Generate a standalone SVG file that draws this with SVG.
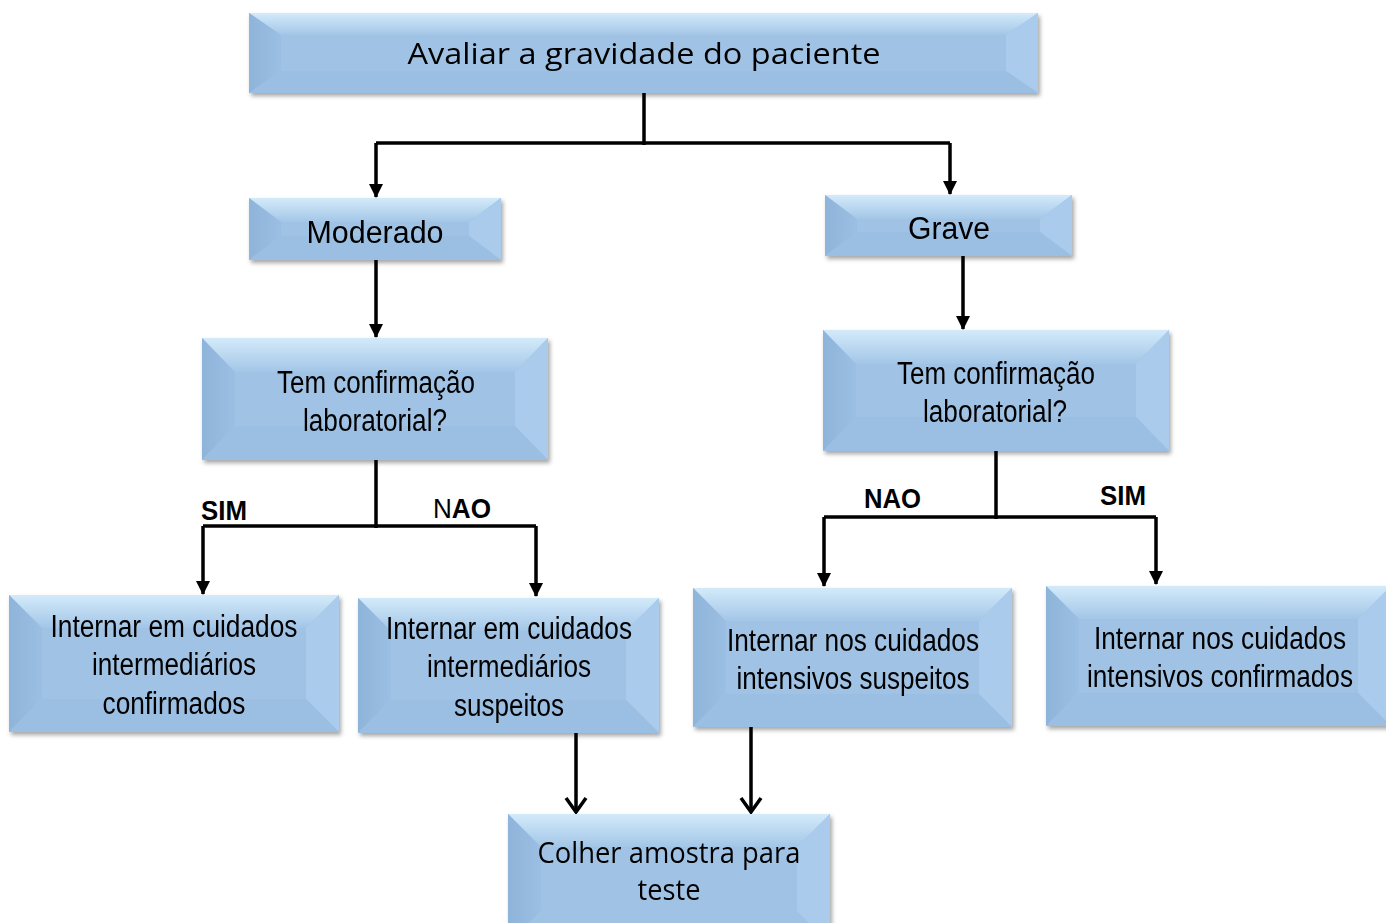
<svg xmlns="http://www.w3.org/2000/svg" width="1386" height="923" viewBox="0 0 1386 923">
<style>
.face{fill:#a0c3e5}
.top{fill:url(#gTop)}
.left{fill:url(#gLeft)}
.right{fill:#aacbeb}
.bot{fill:#9bbfe2}
.n{font-family:"Liberation Sans",Arial,sans-serif;font-size:31px;fill:#000;text-anchor:middle}
.c{font-family:"Open Sans","Noto Sans",sans-serif;font-size:30px;fill:#000;text-anchor:middle}
.lbl{font-family:"Liberation Sans",Arial,sans-serif;font-size:27px;font-weight:bold;fill:#000}
.ln{stroke:#000;stroke-width:3.5;fill:none}
</style>
<defs>
<linearGradient id="gTop" x1="0" y1="0" x2="0" y2="1">
<stop offset="0" stop-color="#d3eafa"/>
<stop offset="1" stop-color="#a3c6e7"/>
</linearGradient>
<linearGradient id="gLeft" x1="0" y1="0" x2="1" y2="0">
<stop offset="0" stop-color="#8fb4d9"/>
<stop offset="1" stop-color="#9bbfe3"/>
</linearGradient>
<filter id="sh" x="-5%" y="-10%" width="115%" height="130%">
<feDropShadow dx="2" dy="3" stdDeviation="2" flood-color="#000" flood-opacity="0.35"/>
</filter>
<marker id="ah" markerWidth="14" markerHeight="14" viewBox="0 0 14 14" refX="7" refY="13" markerUnits="userSpaceOnUse">
<path d="M0,0 L14,0 L7,14 Z" fill="#000"/>
</marker>
<marker id="av" markerWidth="24" markerHeight="18" viewBox="0 0 24 18" refX="12" refY="16" markerUnits="userSpaceOnUse">
<path d="M2,2 L12,16 L22,2" fill="none" stroke="#000" stroke-width="3.5"/>
</marker>
</defs>

<g id="connectors">
<path class="ln" d="M644,93 V145"/>
<path class="ln" d="M376,143 H950"/>
<path class="ln" d="M376,143 V197" marker-end="url(#ah)"/>
<path class="ln" d="M950,143 V194" marker-end="url(#ah)"/>
<path class="ln" d="M376,260 V337" marker-end="url(#ah)"/>
<path class="ln" d="M963,256 V329" marker-end="url(#ah)"/>
<path class="ln" d="M376,460 V528"/>
<path class="ln" d="M203,526 H536"/>
<path class="ln" d="M203,526 V594" marker-end="url(#ah)"/>
<path class="ln" d="M536,526 V596" marker-end="url(#ah)"/>
<path class="ln" d="M996,451 V519"/>
<path class="ln" d="M824,517 H1156"/>
<path class="ln" d="M824,517 V586" marker-end="url(#ah)"/>
<path class="ln" d="M1156,517 V584" marker-end="url(#ah)"/>
<path class="ln" d="M576,733 V812" marker-end="url(#av)"/>
<path class="ln" d="M751,727 V812" marker-end="url(#av)"/>
<text class="lbl" x="201" y="520" textLength="46" lengthAdjust="spacingAndGlyphs">SIM</text>
<text class="lbl" x="433" y="518" textLength="58" lengthAdjust="spacingAndGlyphs"><tspan font-weight="normal">N</tspan>AO</text>
<text class="lbl" x="864" y="508" textLength="57" lengthAdjust="spacingAndGlyphs">NAO</text>
<text class="lbl" x="1100" y="505" textLength="46" lengthAdjust="spacingAndGlyphs">SIM</text>
</g>

<g id="n-avaliar" filter="url(#sh)">
<rect class="face" x="249" y="13" width="789" height="80"/>
<polygon class="top" points="249,13 1038,13 1006,35 281,35"/>
<polygon class="left" points="249,13 281,35 281,71 249,93"/>
<polygon class="right" points="1038,13 1006,35 1006,71 1038,93"/>
<polygon class="bot" points="249,93 281,71 1006,71 1038,93"/>
<text class="c" x="644" y="64" textLength="473" lengthAdjust="spacingAndGlyphs">Avaliar a gravidade do paciente</text>
</g>

<g id="n-moderado" filter="url(#sh)">
<rect class="face" x="249" y="198" width="252" height="62"/>
<polygon class="top" points="249,198 501,198 469,222 281,222"/>
<polygon class="left" points="249,198 281,222 281,236 249,260"/>
<polygon class="right" points="501,198 469,222 469,236 501,260"/>
<polygon class="bot" points="249,260 281,236 469,236 501,260"/>
<text class="n" x="375" y="243" font-size="37" textLength="137" lengthAdjust="spacingAndGlyphs">Moderado</text>
</g>

<g id="n-grave" filter="url(#sh)">
<rect class="face" x="825" y="195" width="247" height="61"/>
<polygon class="top" points="825,195 1072,195 1040,219 857,219"/>
<polygon class="left" points="825,195 857,219 857,232 825,256"/>
<polygon class="right" points="1072,195 1040,219 1040,232 1072,256"/>
<polygon class="bot" points="825,256 857,232 1040,232 1072,256"/>
<text class="n" x="949" y="239" font-size="37" textLength="82" lengthAdjust="spacingAndGlyphs">Grave</text>
</g>

<g id="n-tem-left" filter="url(#sh)">
<rect class="face" x="202" y="338" width="346" height="122"/>
<polygon class="top" points="202,338 548,338 515,372 235,372"/>
<polygon class="left" points="202,338 235,372 235,426 202,460"/>
<polygon class="right" points="548,338 515,372 515,426 548,460"/>
<polygon class="bot" points="202,460 235,426 515,426 548,460"/>
<text class="n" x="376" y="393" textLength="198" lengthAdjust="spacingAndGlyphs">Tem confirmação</text>
<text class="n" x="375" y="431" textLength="144" lengthAdjust="spacingAndGlyphs">laboratorial?</text>
</g>

<g id="n-tem-right" filter="url(#sh)">
<rect class="face" x="823" y="330" width="346" height="121"/>
<polygon class="top" points="823,330 1169,330 1136,364 856,364"/>
<polygon class="left" points="823,330 856,364 856,417 823,451"/>
<polygon class="right" points="1169,330 1136,364 1136,417 1169,451"/>
<polygon class="bot" points="823,451 856,417 1136,417 1169,451"/>
<text class="n" x="996" y="384" textLength="198" lengthAdjust="spacingAndGlyphs">Tem confirmação</text>
<text class="n" x="995" y="422" textLength="144" lengthAdjust="spacingAndGlyphs">laboratorial?</text>
</g>

<g id="n-inter-conf" filter="url(#sh)">
<rect class="face" x="9" y="595" width="330" height="137"/>
<polygon class="top" points="9,595 339,595 306,628 42,628"/>
<polygon class="left" points="9,595 42,628 42,699 9,732"/>
<polygon class="right" points="339,595 306,628 306,699 339,732"/>
<polygon class="bot" points="9,732 42,699 306,699 339,732"/>
<text class="n" x="174" y="637" textLength="247" lengthAdjust="spacingAndGlyphs">Internar em cuidados</text>
<text class="n" x="174" y="675" textLength="164" lengthAdjust="spacingAndGlyphs">intermediários</text>
<text class="n" x="174" y="714" textLength="143" lengthAdjust="spacingAndGlyphs">confirmados</text>
</g>

<g id="n-inter-susp" filter="url(#sh)">
<rect class="face" x="358" y="598" width="301" height="135"/>
<polygon class="top" points="358,598 659,598 626,631 391,631"/>
<polygon class="left" points="358,598 391,631 391,700 358,733"/>
<polygon class="right" points="659,598 626,631 626,700 659,733"/>
<polygon class="bot" points="358,733 391,700 626,700 659,733"/>
<text class="n" x="509" y="639" textLength="246" lengthAdjust="spacingAndGlyphs">Internar em cuidados</text>
<text class="n" x="509" y="677" textLength="164" lengthAdjust="spacingAndGlyphs">intermediários</text>
<text class="n" x="509" y="716" textLength="110" lengthAdjust="spacingAndGlyphs">suspeitos</text>
</g>

<g id="n-intens-susp" filter="url(#sh)">
<rect class="face" x="693" y="588" width="319" height="139"/>
<polygon class="top" points="693,588 1012,588 979,621 726,621"/>
<polygon class="left" points="693,588 726,621 726,694 693,727"/>
<polygon class="right" points="1012,588 979,621 979,694 1012,727"/>
<polygon class="bot" points="693,727 726,694 979,694 1012,727"/>
<text class="n" x="853" y="651" textLength="252" lengthAdjust="spacingAndGlyphs">Internar nos cuidados</text>
<text class="n" x="853" y="689" textLength="233" lengthAdjust="spacingAndGlyphs">intensivos suspeitos</text>
</g>

<g id="n-intens-conf" filter="url(#sh)">
<rect class="face" x="1046" y="586" width="345" height="140"/>
<polygon class="top" points="1046,586 1391,586 1358,619 1079,619"/>
<polygon class="left" points="1046,586 1079,619 1079,693 1046,726"/>
<polygon class="right" points="1391,586 1358,619 1358,693 1391,726"/>
<polygon class="bot" points="1046,726 1079,693 1358,693 1391,726"/>
<text class="n" x="1220" y="649" textLength="252" lengthAdjust="spacingAndGlyphs">Internar nos cuidados</text>
<text class="n" x="1220" y="687" textLength="266" lengthAdjust="spacingAndGlyphs">intensivos confirmados</text>
</g>

<g id="n-colher" filter="url(#sh)">
<rect class="face" x="508" y="814" width="322" height="130"/>
<polygon class="top" points="508,814 830,814 797,847 541,847"/>
<polygon class="left" points="508,814 541,847 541,911 508,944"/>
<polygon class="right" points="830,814 797,847 797,911 830,944"/>
<text class="c" x="669" y="863" textLength="263" lengthAdjust="spacingAndGlyphs">Colher amostra para</text>
<text class="c" x="669" y="900" textLength="63" lengthAdjust="spacingAndGlyphs">teste</text>
</g>
</svg>
